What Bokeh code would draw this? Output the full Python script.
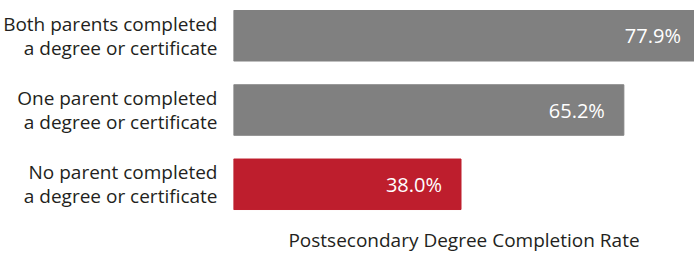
from bokeh.plotting import figure
from bokeh.models import Range1d, FixedTicker, ColumnDataSource
from bokeh.core.properties import value
from bokeh.embed import file_html
from bokeh.resources import INLINE

categories = [
    "Both parents completed\na degree or certificate",
    "One parent completed\na degree or certificate",
    "No parent completed\na degree or certificate",
]
rates = [77.9, 65.2, 38.0]
rate_labels = ["77.9%", "65.2%", "38.0%"]
bar_colors = ["#808080", "#808080", "#BE1E2D"]
axis_title = "Postsecondary Degree Completion Rate"

n = len(categories)
ypos = [n - 1 - i for i in range(n)]
label_pad = 3.17  # in percent units (~19 px)

src = ColumnDataSource(dict(
    y=ypos, rate=rates, color=bar_colors, lab=rate_labels,
    lx=[r - label_pad for r in rates],
))

FONT = "Open Sans"
TXT = "#231F20"

p = figure(width=694, height=255, output_backend="svg", toolbar_location=None,
           x_range=Range1d(0, 77.0), y_range=Range1d(-0.407, 2.367),
           min_border_left=232, min_border_right=0, min_border_top=8,
           min_border_bottom=39)
p.outline_line_color = None
p.xgrid.visible = False
p.ygrid.visible = False

p.hbar(y="y", left=0, right="rate", height=0.68, color="color", source=src)
p.text(x="lx", y="y", text="lab", source=src, text_align="right",
       text_baseline="middle", text_color="white",
       text_font=value(FONT), text_font_size="20px")

ya = p.yaxis[0]
ya.ticker = FixedTicker(ticks=ypos)
ya.major_label_overrides = {y: c for y, c in zip(ypos, categories)}
ya.major_label_text_font = FONT
ya.major_label_text_font_size = "19px"
ya.major_label_text_color = TXT
ya.major_label_text_line_height = 0.93
ya.major_label_standoff = 10
ya.major_tick_line_color = None
ya.minor_tick_line_color = None
ya.axis_line_color = None

xa = p.xaxis[0]
xa.ticker = FixedTicker(ticks=[])
xa.major_tick_line_color = None
xa.minor_tick_line_color = None
xa.axis_line_color = None
xa.axis_label = axis_title
xa.axis_label_text_font = FONT
xa.axis_label_text_font_size = "19px"
xa.axis_label_text_font_style = "normal"
xa.axis_label_text_color = TXT
xa.axis_label_standoff = 12

open("out.html", "w").write(file_html(p, INLINE))
